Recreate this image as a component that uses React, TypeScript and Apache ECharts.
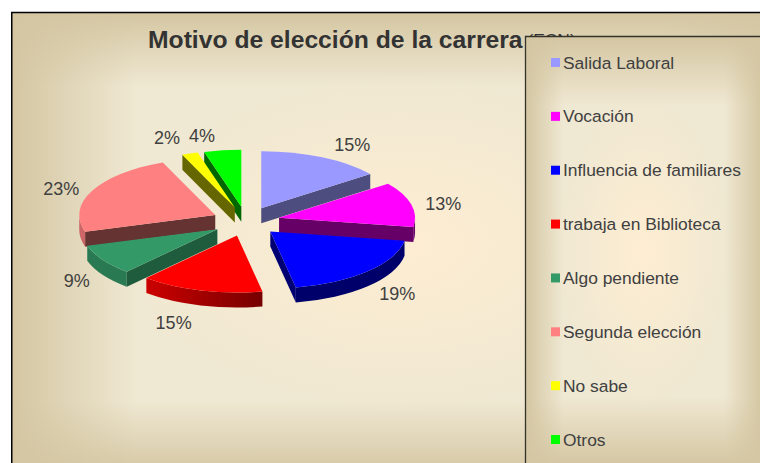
import React, { useEffect, useRef } from "react";
import * as echarts from "echarts";

const titleMain = "Motivo de elección de la carrera";
const titleSuffix = " (ECN)";
const categories = ["Salida Laboral", "Vocación", "Influencia de familiares", "trabaja en Biblioteca", "Algo pendiente", "Segunda elección", "No sabe", "Otros"];
const values = [14.8, 12.8, 19.4, 14.6, 8.7, 23.4, 1.9, 4.4];
const palette = ["#9999ff", "#ff00ff", "#0000ff", "#ff0000", "#339966", "#ff8080", "#ffff00", "#00ff00"];
const faceShade = [0.5, 0.4, 0.45, 0.4, 0.6, 0.4, 0.4, 0.4];

// Layout of the tilted, exploded pie
const CX = 246, CY = 221.3, RX = 136, RY = 57, DEPTH = 15, EX = 34, EY = 14.7;
// Painting order, back to front
const paintOrder = [7, 6, 0, 5, 1, 4, 3, 2];
// Shift of each percent label from the slice rim
const labelNudge = [[30, -12], [32, 0], [29.5, 23], [-27, 33], [-26, 21], [-31, -2], [-23, -16], [-20.5, -14]];

const total = values.reduce((a, b) => a + b, 0);
const TEXT = "#404040";
const FONT = "Liberation Sans, Arial, sans-serif";

const shade = (hex: string, f: number) => {
  const n = parseInt(hex.slice(1), 16);
  const c = [(n >> 16) & 255, (n >> 8) & 255, n & 255].map((v) => Math.round(v * f));
  return `rgb(${c[0]},${c[1]},${c[2]})`;
};
const rimFactor = (x: number) => Math.max(0.42, Math.min(0.8, 0.8 - (0.36 * (x - 150)) / 120));

const makeRenderItem = (idx: number) => (_p: any, api: any) => {
  const value = api.value(0);
  const before = values.slice(0, idx).reduce((a, b) => a + b, 0);
  const a0 = (before / total) * 2 * Math.PI;
  const a1 = ((before + value) / total) * 2 * Math.PI;
  const mid = (a0 + a1) / 2;
  const ox = CX + EX * Math.sin(mid);
  const oy = CY - EY * Math.cos(mid);
  const pt = (a: number, d = 0): [number, number] => [ox + RX * Math.sin(a), oy - RY * Math.cos(a) + d];
  const color = palette[idx];
  const children: any[] = [];
  const arc = (a: number, b: number, d: number, sweep: number) => {
    const [x, y] = pt(b, d);
    const large = Math.abs(b - a) > Math.PI ? 1 : 0;
    return `A${RX} ${RY} 0 ${large} ${sweep} ${x} ${y}`;
  };
  const face = (a: number) => {
    const p = pt(a);
    children.push({
      type: "polygon",
      shape: { points: [[ox, oy], p, [p[0], p[1] + DEPTH], [ox, oy + DEPTH]] },
      style: { fill: shade(color, faceShade[idx]) },
    });
  };
  const HALF = Math.PI / 2;
  if (a0 >= Math.PI) face(a0);
  if (a1 <= Math.PI) face(a1);
  const r0 = Math.max(a0, HALF);
  const r1 = Math.min(a1, 3 * HALF);
  if (r1 > r0) {
    const s = pt(r0);
    const e = pt(r1);
    const leftX = Math.min(s[0], e[0]);
    const rightX = Math.max(s[0], e[0]);
    children.push({
      type: "path",
      shape: {
        pathData: `M${s[0]} ${s[1]} ${arc(r0, r1, 0, 1)} L${e[0]} ${e[1] + DEPTH} ${arc(r1, r0, DEPTH, 0)} Z`,
      },
      style: {
        fill: new echarts.graphic.LinearGradient(0, 0, 1, 0, [
          { offset: 0, color: shade(color, rimFactor(leftX)) },
          { offset: 1, color: shade(color, rimFactor(rightX)) },
        ]),
      },
    });
  }
  const s = pt(a0);
  children.push({
    type: "path",
    shape: { pathData: `M${ox} ${oy} L${s[0]} ${s[1]} ${arc(a0, a1, 0, 1)} Z` },
    style: { fill: color },
  });
  const rim = pt(mid);
  children.push({
    type: "text",
    x: rim[0] + labelNudge[idx][0],
    y: rim[1] + labelNudge[idx][1],
    style: { text: `${Math.round(value)}%`, fill: TEXT, fontSize: 18, fontFamily: FONT, align: "center", verticalAlign: "middle" },
  });
  return { type: "group", children };
};

const frame = (x0: number, y0: number, x1: number, y1: number, z: number, stroke: string, lineWidth: number) => {
  const TAN = "212,198,162";
  const CREAM = "239,232,210";
  const PEACH = "254,237,210";
  const band = 0.16;
  const shape = { x: x0, y: y0, width: x1 - x0, height: y1 - y0 };
  const G = echarts.graphic;
  return [
    {
      type: "rect", z, silent: true, shape,
      style: {
        fill: new G.LinearGradient(0, 0, 1, 0, [
          { offset: 0, color: `rgb(${TAN})` },
          { offset: band, color: `rgb(${CREAM})` },
          { offset: 1 - band, color: `rgb(${CREAM})` },
          { offset: 1, color: `rgb(${TAN})` },
        ]),
      },
    },
    {
      type: "rect", z, silent: true, shape,
      style: {
        fill: new G.LinearGradient(0, 0, 0, 1, [
          { offset: 0, color: `rgba(${TAN},1)` },
          { offset: band, color: `rgba(${TAN},0)` },
          { offset: 1 - band, color: `rgba(${TAN},0)` },
          { offset: 1, color: `rgba(${TAN},1)` },
        ]),
      },
    },
    {
      type: "rect", z, silent: true, shape,
      style: {
        fill: new G.RadialGradient(0.5, 0.5, 0.5, [
          { offset: 0, color: `rgba(${PEACH},1)` },
          { offset: 0.75, color: `rgba(${PEACH},0)` },
        ]),
      },
    },
    { type: "rect", z, silent: true, shape, style: { fill: "none", stroke, lineWidth } },
  ];
};

export default function App() {
  const ref = useRef<HTMLDivElement>(null);
  useEffect(() => {
    const chart = echarts.init(ref.current!, null, { renderer: "svg" });
    chart.setOption({
      animation: false,
      title: {
        text: `{b|${titleMain}}{n|${titleSuffix}}`,
        left: 148,
        top: 27,
        padding: 0,
        z: 1,
        textStyle: {
          fontWeight: "normal",
          rich: {
            b: { fontSize: 24.7, fontWeight: "bold", fontFamily: FONT, color: "#333333" },
            n: { fontSize: 17.4, fontWeight: "normal", fontFamily: FONT, color: "#333333" },
          },
        },
      },
      graphic: {
        elements: [...frame(11.75, 12.5, 790, 475, 0, "#000000", 1.5), ...frame(525.5, 36.5, 762, 466, 12, "#33332b", 1.3)],
      },
      legend: {
        data: categories,
        orient: "vertical",
        left: 551,
        top: 54,
        padding: 0,
        z: 13,
        itemWidth: 9,
        itemHeight: 9,
        itemGap: 36.86,
        icon: "rect",
        selectedMode: false,
        textStyle: { fontSize: 17.4, fontFamily: FONT, color: TEXT, padding: [0, 0, 0, -2] },
      },
      series: categories.map((name, i) => ({
        type: "custom",
        name,
        coordinateSystem: "none",
        z: 2 + paintOrder.indexOf(i),
        silent: true,
        itemStyle: { color: palette[i] },
        data: [[values[i]]],
        renderItem: makeRenderItem(i),
      })),
    });
    return () => chart.dispose();
  }, []);
  return <div ref={ref} style={{ position: "fixed", left: 0, top: 0, width: 760, height: 463, background: "#fff" }} />;
}
